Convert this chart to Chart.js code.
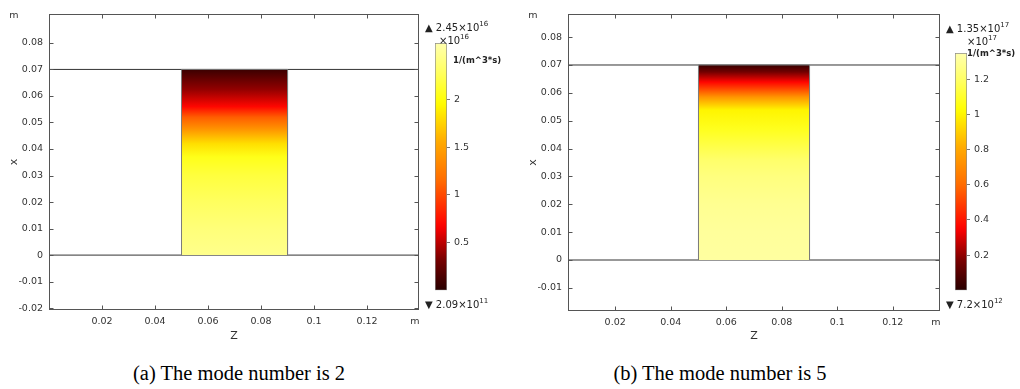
<!DOCTYPE html>
<html>
<head>
<meta charset="utf-8">
<script src="https://cdn.jsdelivr.net/npm/chart.js@4.4.1/dist/chart.umd.min.js"></script>
<style>
  html, body { margin: 0; padding: 0; background: #fff; }
  body { width: 1020px; height: 389px; position: relative; overflow: hidden; font-family: "DejaVu Sans", sans-serif; }
  canvas { position: absolute; }
  .lbl { position: absolute; font-size: 10px; line-height: 12px; white-space: nowrap; color: #222; }
  .lbl sup { font-size: 7px; position: relative; top: -1px; vertical-align: top; line-height: 7px; }
  .unit { font-weight: bold; font-size: 8.5px; }
  .cap { position: absolute; font-family: "Liberation Serif", "Times New Roman", serif; font-size: 20.5px; line-height: 22px; color: #000; white-space: nowrap; transform: translateX(-50%); }
</style>
</head>
<body>
<canvas id="plotA" width="430" height="345" style="left:0;top:0"></canvas>
<canvas id="plotB" width="431" height="345" style="left:519px;top:0"></canvas>
<canvas id="barA" width="60" height="300" style="left:425px;top:0"></canvas>
<canvas id="barB" width="60" height="300" style="left:945px;top:0"></canvas>

<div class="lbl" style="left:425px;top:22px">&#9650; 2.45&times;10<sup>16</sup></div>
<div class="lbl" style="left:439px;top:35px">&times;10<sup>16</sup></div>
<div class="lbl unit" style="left:453px;top:54px">1/(m^3*s)</div>
<div class="lbl" style="left:425px;top:299px">&#9660; 2.09&times;10<sup>11</sup></div>

<div class="lbl" style="left:946px;top:23px">&#9650; 1.35&times;10<sup>17</sup></div>
<div class="lbl" style="left:967px;top:36px">&times;10<sup>17</sup></div>
<div class="lbl unit" style="left:967px;top:47px">1/(m^3*s)</div>
<div class="lbl" style="left:946px;top:299px">&#9660; 7.2&times;10<sup>12</sup></div>

<div class="cap" style="left:239px;top:362px">(a) The mode number is 2</div>
<div class="cap" style="left:720px;top:362px">(b) The mode number is 5</div>

<script>
// domain: rectangle between z = 0.05..0.09 m, x = 0..0.07 m
const rectZ = [0.05, 0.09];
const rectX = [0, 0.07];

// (a) mode number 2 : rate along the height, in 1e16 1/(m^3*s)
const heightsA = [0, 0.01, 0.02, 0.03, 0.037, 0.042, 0.0474, 0.052, 0.056, 0.0625, 0.07];
const rateA = [2.45, 2.38, 2.28, 2.17, 2.05, 1.81, 1.42, 1.09, 0.70, 0.39, 0.08];
const zTicksA = [0.02, 0.04, 0.06, 0.08, 0.1, 0.12];
const xTicksA = [-0.02, -0.01, 0, 0.01, 0.02, 0.03, 0.04, 0.05, 0.06, 0.07, 0.08];
const zRangeA = [0, 0.1396];
const xRangeA = [-0.0207, 0.0909];
const cbTicksA = [0.5, 1, 1.5, 2];
const cbRangeA = [0, 2.59];

// (b) mode number 5 : rate along the height, in 1e17 1/(m^3*s)
const heightsB = [0, 0.01, 0.02, 0.03, 0.036, 0.0466, 0.0538, 0.0585, 0.0639, 0.0675, 0.07];
const rateB = [1.32, 1.31, 1.29, 1.25, 1.21, 1.08, 1.0, 0.74, 0.36, 0.16, 0.03];
const zTicksB = [0.02, 0.04, 0.06, 0.08, 0.1, 0.12];
const xTicksB = [-0.01, 0, 0.01, 0.02, 0.03, 0.04, 0.05, 0.06, 0.07, 0.08];
const zRangeB = [0.003, 0.137];
const xRangeB = [-0.0183, 0.0883];
const cbTicksB = [0.2, 0.4, 0.6, 0.8, 1, 1.2];
const cbRangeB = [0, 1.35];

// heat colour table (dark red -> red -> orange -> yellow -> pale yellow)
const heatStops = [
  [0.00, [40, 0, 0]],
  [0.12, [115, 0, 0]],
  [0.26, [255, 0, 0]],
  [0.45, [255, 110, 0]],
  [0.60, [255, 170, 0]],
  [0.76, [255, 255, 0]],
  [0.88, [255, 255, 95]],
  [1.00, [255, 255, 175]]
];

function heat(t) {
  t = Math.max(0, Math.min(1, t));
  for (let i = 1; i < heatStops.length; i++) {
    const [t1, c1] = heatStops[i];
    const [t0, c0] = heatStops[i - 1];
    if (t <= t1) {
      const f = (t - t0) / (t1 - t0);
      const c = c0.map((v, k) => Math.round(v + (c1[k] - v) * f));
      return `rgb(${c[0]},${c[1]},${c[2]})`;
    }
  }
  return 'rgb(255,255,175)';
}

const tickFont = { family: "'DejaVu Sans', sans-serif", size: 9.5 };
const tickColor = '#333';
const fmt = v => String(+Number(v).toFixed(3));

// box around the plot with inward ticks on all four sides, and unit labels
const frame = {
  id: 'frame',
  afterDraw(chart) {
    const { ctx, chartArea: a, scales: { x, y } } = chart;
    const L = Math.round(a.left) + 0.5, R = Math.round(a.right) - 0.5;
    const T = Math.round(a.top) + 0.5, B = Math.round(a.bottom) - 0.5;
    ctx.save();
    ctx.strokeStyle = '#555';
    ctx.lineWidth = 1;
    ctx.strokeRect(L, T, R - L, B - T);
    ctx.beginPath();
    x.ticks.forEach(t => {
      const px = Math.round(x.getPixelForValue(t.value)) + 0.5;
      ctx.moveTo(px, B); ctx.lineTo(px, B - 4);
      ctx.moveTo(px, T); ctx.lineTo(px, T + 4);
    });
    y.ticks.forEach(t => {
      const py = Math.round(y.getPixelForValue(t.value)) + 0.5;
      ctx.moveTo(L, py); ctx.lineTo(L + 4, py);
      ctx.moveTo(R, py); ctx.lineTo(R - 4, py);
    });
    ctx.stroke();
    ctx.fillStyle = tickColor;
    ctx.font = "9.5px 'DejaVu Sans', sans-serif";
    ctx.textAlign = 'center';
    ctx.textBaseline = 'middle';
    ctx.fillText('m', a.left - 35, a.top + 2);
    ctx.fillText('m', a.right - 4, a.bottom + 12);
    ctx.restore();
  }
};

function drawPanel(id, p) {
  const fieldFill = context => {
    const chart = context.chart;
    if (!chart.chartArea) return '#ffff99';
    const y = chart.scales.y;
    const top = rectX[1], bot = rectX[0];
    const g = chart.ctx.createLinearGradient(0, y.getPixelForValue(top), 0, y.getPixelForValue(bot));
    p.heights.forEach((h, i) => {
      g.addColorStop((top - h) / (top - bot), heat(p.rate[i] / p.cbRange[1]));
    });
    return g;
  };

  new Chart(document.getElementById(id), {
    type: 'scatter',
    data: {
      datasets: [
        {
          data: [
            { x: rectZ[0], y: rectX[0] }, { x: rectZ[0], y: rectX[1] },
            { x: rectZ[1], y: rectX[1] }, { x: rectZ[1], y: rectX[0] }
          ],
          showLine: true, fill: 'origin', backgroundColor: fieldFill,
          borderColor: '#7a7a7a', borderWidth: 1, pointRadius: 0
        },
        {
          data: [{ x: p.zRange[0], y: rectX[1] }, { x: p.zRange[1], y: rectX[1] }],
          showLine: true, borderColor: '#333', borderWidth: 1, pointRadius: 0
        },
        {
          data: [{ x: p.zRange[0], y: rectX[0] }, { x: p.zRange[1], y: rectX[0] }],
          showLine: true, borderColor: '#333', borderWidth: 1, pointRadius: 0
        }
      ]
    },
    options: {
      animation: false,
      responsive: false,
      layout: { padding: { top: 14, right: p.padRight, left: 0, bottom: 0 } },
      plugins: { legend: { display: false }, tooltip: { enabled: false } },
      scales: {
        x: {
          type: 'linear', min: p.zRange[0], max: p.zRange[1],
          afterBuildTicks: s => { s.ticks = p.zTicks.map(v => ({ value: v })); },
          afterFit: s => { s.height = p.xAxisH; },
          grid: { display: false, drawTicks: false }, border: { display: false },
          ticks: { font: tickFont, color: tickColor, padding: 6, autoSkip: false, maxRotation: 0, callback: fmt },
          title: { display: true, text: 'Z', color: '#333', font: { family: "'DejaVu Sans', sans-serif", size: 11 }, padding: { bottom: 2 } }
        },
        y: {
          type: 'linear', min: p.xRange[0], max: p.xRange[1],
          afterBuildTicks: s => { s.ticks = p.xTicks.map(v => ({ value: v })); },
          afterFit: s => { s.width = 49; },
          grid: { display: false, drawTicks: false }, border: { display: false },
          ticks: { font: tickFont, color: tickColor, padding: 6, autoSkip: false, callback: fmt },
          title: { display: true, text: 'x', color: '#333', font: { family: "'DejaVu Sans', sans-serif", size: 11 }, padding: { top: 8 } }
        }
      }
    },
    plugins: [frame]
  });
}

function drawColorbar(id, cb) {
  const barFill = context => {
    const chart = context.chart;
    const a = chart.chartArea;
    if (!a) return '#ff0';
    const g = chart.ctx.createLinearGradient(0, a.bottom, 0, a.top);
    for (let i = 0; i <= 40; i++) g.addColorStop(i / 40, heat(i / 40));
    return g;
  };

  new Chart(document.getElementById(id), {
    type: 'bar',
    data: {
      labels: [''],
      datasets: [{
        data: [cb.range], backgroundColor: barFill,
        borderColor: '#8c8c8c', borderWidth: 1, borderSkipped: false,
        barPercentage: 1, categoryPercentage: 1
      }]
    },
    options: {
      animation: false,
      responsive: false,
      layout: { padding: { top: cb.top, bottom: 7, left: 10, right: 0 } },
      plugins: { legend: { display: false }, tooltip: { enabled: false } },
      scales: {
        x: { display: false },
        y: {
          position: 'right', min: cb.range[0], max: cb.range[1],
          afterBuildTicks: s => { s.ticks = cb.ticks.map(v => ({ value: v })); },
          afterFit: s => { s.width = 38; },
          grid: { drawOnChartArea: false, tickLength: 3, color: '#777' },
          border: { display: false },
          ticks: { font: tickFont, color: tickColor, padding: 4, autoSkip: false, callback: fmt }
        }
      }
    }
  });
}

drawPanel('plotA', {
  heights: heightsA, rate: rateA, cbRange: cbRangeA,
  zTicks: zTicksA, xTicks: xTicksA, zRange: zRangeA, xRange: xRangeA,
  padRight: 11, xAxisH: 35
});
drawPanel('plotB', {
  heights: heightsB, rate: rateB, cbRange: cbRangeB,
  zTicks: zTicksB, xTicks: xTicksB, zRange: zRangeB, xRange: xRangeB,
  padRight: 10, xAxisH: 34
});
drawColorbar('barA', { range: cbRangeA, ticks: cbTicksA, top: 43 });
drawColorbar('barB', { range: cbRangeB, ticks: cbTicksB, top: 53 });
</script>
</body>
</html>
